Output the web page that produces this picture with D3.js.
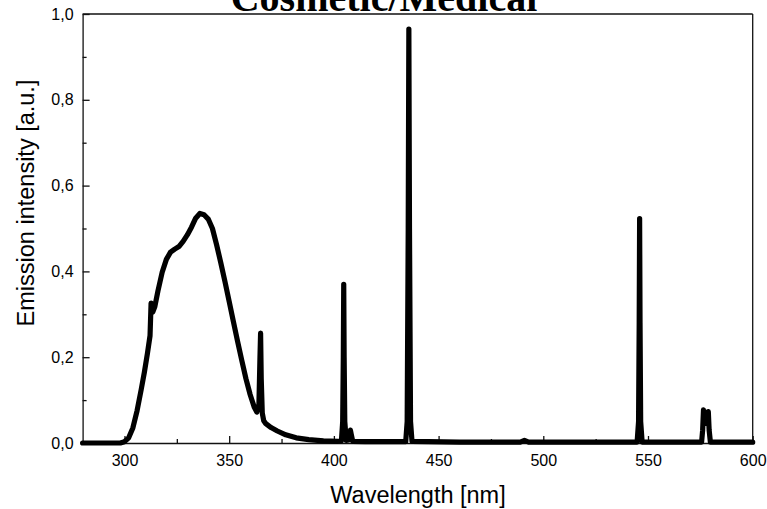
<!DOCTYPE html>
<html>
<head>
<meta charset="utf-8">
<script src="https://cdn.jsdelivr.net/npm/d3@7"></script>
<style>
  html, body { margin: 0; padding: 0; background: #fff; }
  svg { display: block; }
  text { font-family: "Liberation Sans", Arial, sans-serif; fill: #000; }
</style>
</head>
<body>
<svg id="chart" width="767" height="509"></svg>
<script>
// ---- data ----
const wavelength = [
  280, 290, 298, 300, 302, 304, 306, 308, 309.5, 311, 312.2, 312.7, 313.5, 314.5,
  316, 318, 320, 322, 324, 326, 328, 330, 332, 334, 336, 338, 340, 342, 344, 346, 348,
  350, 352, 354, 356, 358, 360, 362, 363.2, 364.2, 364.7, 365.0, 365.3, 365.8, 366.5,
  367.5, 370, 373, 377, 382, 388, 395, 402, 403.6, 404.2, 404.5, 404.7, 404.9, 405.2,
  405.9, 407.0, 407.5, 407.9, 408.3, 409, 415, 425, 434.3, 435.0, 435.5, 435.8, 436.1,
  436.6, 437.3, 445, 460, 480, 489, 491, 493, 510, 530, 544.8, 545.5, 545.8, 546.0,
  546.2, 546.5, 547.2, 560, 575.6, 576.1, 576.5, 577.1, 577.6, 578.2, 578.8, 579.2,
  579.8, 590, 600
];
const intensity = [
  0.0, 0.0, 0.0, 0.003, 0.012, 0.035, 0.075, 0.125, 0.165, 0.21, 0.25, 0.326, 0.305, 0.318,
  0.355, 0.398, 0.428, 0.445, 0.452, 0.458, 0.47, 0.485, 0.503, 0.524, 0.535, 0.532, 0.522, 0.5, 0.462, 0.42, 0.376,
  0.33, 0.283, 0.237, 0.193, 0.15, 0.113, 0.083, 0.072, 0.09, 0.2, 0.256, 0.15, 0.07, 0.052,
  0.045, 0.036, 0.028, 0.019, 0.012, 0.008, 0.005, 0.004, 0.005, 0.05, 0.2, 0.37, 0.2, 0.05,
  0.006, 0.007, 0.02, 0.03, 0.02, 0.004, 0.003, 0.003, 0.003, 0.05, 0.5, 0.965, 0.5,
  0.05, 0.004, 0.003, 0.002, 0.002, 0.002, 0.006, 0.002, 0.002, 0.002, 0.002, 0.05, 0.28, 0.523,
  0.28, 0.05, 0.002, 0.002, 0.002, 0.03, 0.077, 0.05, 0.046, 0.05, 0.073, 0.03,
  0.002, 0.002, 0.002
];
const xMajorTicks = [300, 350, 400, 450, 500, 550, 600];
const xMinorTicks = [325, 375, 425, 475, 525, 575];
const yMajorTicks = [0, 0.2, 0.4, 0.6, 0.8, 1.0];
const yMinorTicks = [0.1, 0.3, 0.5, 0.7, 0.9];
const titleText = "Cosmetic/Medical";
const xLabel = "Wavelength [nm]";
const yLabel = "Emission intensity [a.u.]";

// ---- layout ----
const svg = d3.select("#chart");
const mLeft = 82.6, mRight = 752.7, mTop = 14, mBottom = 443;

const x = d3.scaleLinear().domain([280, 600]).range([mLeft, mRight]);
const y = d3.scaleLinear().domain([0, 1.0]).range([mBottom, mTop]);

const fmtY = v => d3.format(".1f")(v).replace(".", ",");
const axisColor = "#111";

// frame (top and right)
svg.append("line").attr("x1", mLeft).attr("x2", mRight).attr("y1", mTop).attr("y2", mTop)
  .attr("stroke", axisColor).attr("stroke-width", 1.3);
svg.append("line").attr("x1", mRight).attr("x2", mRight).attr("y1", mTop).attr("y2", mBottom)
  .attr("stroke", axisColor).attr("stroke-width", 1.3);

// x axis
svg.append("g").attr("transform", `translate(0,${mBottom})`)
  .call(d3.axisBottom(x).tickValues(xMajorTicks).tickSizeInner(-7).tickSizeOuter(0).tickPadding(12)
    .tickFormat(d3.format("d")));
const gxm = svg.append("g").attr("transform", `translate(0,${mBottom})`)
  .call(d3.axisBottom(x).tickValues(xMinorTicks).tickSizeInner(-4).tickSizeOuter(0).tickFormat(""));
gxm.select(".domain").remove();

// y axis
svg.append("g").attr("transform", `translate(${mLeft},0)`)
  .call(d3.axisLeft(y).tickValues(yMajorTicks).tickSizeInner(-7).tickSizeOuter(0).tickPadding(9)
    .tickFormat(fmtY));
const gym = svg.append("g").attr("transform", `translate(${mLeft},0)`)
  .call(d3.axisLeft(y).tickValues(yMinorTicks).tickSizeInner(-4).tickSizeOuter(0).tickFormat(""));
gym.select(".domain").remove();

svg.selectAll(".domain").attr("stroke", axisColor).attr("stroke-width", 1.3);
svg.selectAll(".tick line").attr("stroke", axisColor).attr("stroke-width", 1.3);
svg.selectAll(".tick text").attr("font-size", 16).attr("font-family", "'Liberation Sans', Arial, sans-serif").attr("fill", "#000");

// spectrum line
const pts = wavelength.map((w, i) => [w, intensity[i]]);
svg.append("path")
  .datum(pts)
  .attr("fill", "none")
  .attr("stroke", "#000")
  .attr("stroke-width", 5.2)
  .attr("stroke-linejoin", "round")
  .attr("stroke-linecap", "round")
  .attr("d", d3.line().x(d => x(d[0])).y(d => y(d[1])));

// labels
svg.append("text")
  .attr("x", 418)
  .attr("y", 503)
  .attr("text-anchor", "middle")
  .attr("font-size", 23.5)
  .text(xLabel);

svg.append("text")
  .attr("transform", `translate(34,203) rotate(-90)`)
  .attr("text-anchor", "middle")
  .attr("font-size", 23.5)
  .text(yLabel);

// title (cut off at the top in the reference)
svg.append("text")
  .attr("x", 384)
  .attr("y", 11)
  .attr("text-anchor", "middle")
  .attr("font-weight", "bold")
  .attr("font-size", 40)
  .style("font-family", "'Liberation Serif', 'Times New Roman', serif")
  .text(titleText);
</script>
</body>
</html>
